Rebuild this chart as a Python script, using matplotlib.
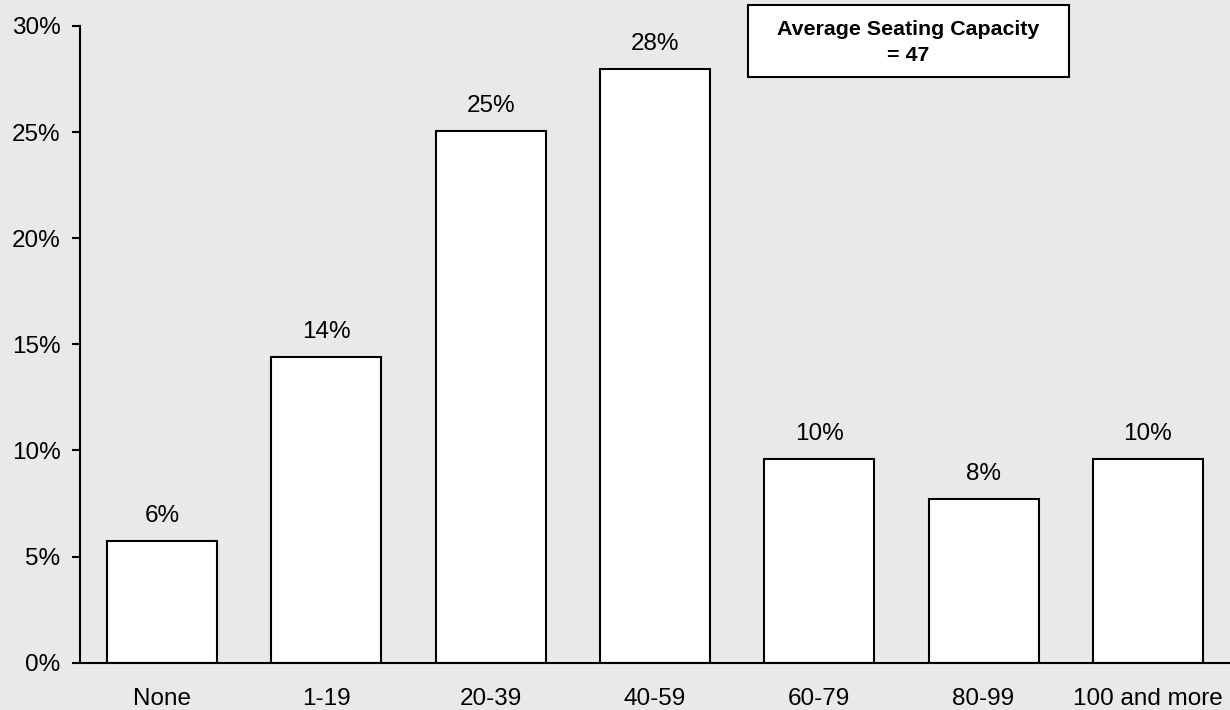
import matplotlib.pyplot as plt
from matplotlib.patches import Rectangle

plt.rcParams["font.family"] = ["Liberation Sans", "DejaVu Sans"]

# seating capacity bands and share of outlets (%)
categories = ["None", "1-19", "20-39", "40-59", "60-79", "80-99", "100 and more"]
shares = [5.73, 14.4, 25.03, 27.95, 9.62, 7.73, 9.62]
yticks = [0, 5, 10, 15, 20, 25, 30]
avg_text = "Average Seating Capacity\n= 47"

BG = "#E9E9E9"
FS = 17.5

fig = plt.figure(figsize=(12.3, 7.1), dpi=100, facecolor=BG)
ax = fig.add_axes([0.065, 0.0666, 0.935, 0.8968])
ax.set_facecolor(BG)

x = range(len(categories))
ax.bar(x, shares, width=0.67, color="white", edgecolor="black", linewidth=1.5)

for xi, v in zip(x, shares):
    ax.annotate(f"{v:.0f}%", (xi, v), xytext=(0, 18), textcoords="offset points",
                ha="center", va="center", fontsize=FS)

ax.set_xlim(-0.5, len(categories) - 0.5)
ax.set_ylim(0, 30)
ax.set_yticks(yticks)
ax.set_yticklabels([f"{t}%" for t in yticks])
ax.set_xticks(list(x))
ax.set_xticklabels(categories)

ax.tick_params(axis="y", direction="out", length=6, width=1.5, pad=8, labelsize=FS)
ax.tick_params(axis="x", length=0, pad=18, labelsize=FS)

for side in ("top", "right"):
    ax.spines[side].set_visible(False)
for side in ("left", "bottom"):
    ax.spines[side].set_linewidth(1.5)

# average capacity callout, sits partly above the plot area
box = Rectangle((0.581, 0.920), 0.279, 0.1134, transform=ax.transAxes,
                facecolor="white", edgecolor="black", linewidth=1.5, clip_on=False)
ax.add_patch(box)
ax.text(0.581 + 0.279 / 2, 0.920 + 0.1134 / 2 - 0.003, avg_text, transform=ax.transAxes,
        ha="center", va="center", fontsize=15.4, fontweight="bold", linespacing=1.45)

fig.savefig("out.png", dpi=100, facecolor=BG)
